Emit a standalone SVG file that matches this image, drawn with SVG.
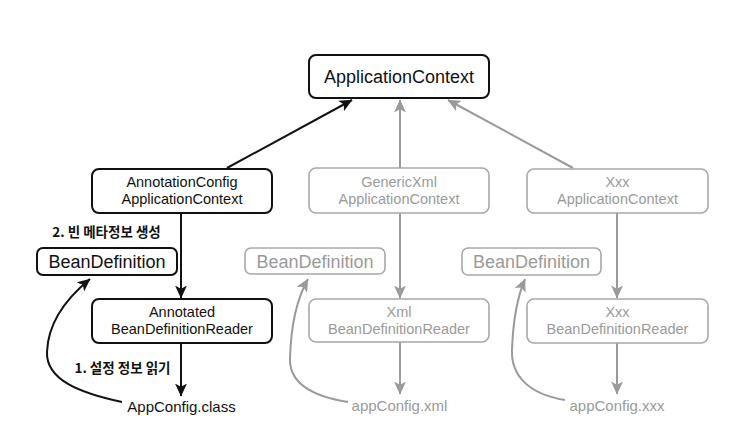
<svg xmlns="http://www.w3.org/2000/svg" width="747" height="436" viewBox="0 0 747 436">
<defs>
<marker id="ab" viewBox="0 0 12 11" refX="11.5" refY="5.5" markerWidth="13" markerHeight="12" orient="auto" markerUnits="userSpaceOnUse">
<path d="M0,0 L12,5.5 L0,11 L3,5.5 Z" fill="#111"/>
</marker>
<marker id="ag" viewBox="0 0 12 11" refX="11.5" refY="5.5" markerWidth="13" markerHeight="12" orient="auto" markerUnits="userSpaceOnUse">
<path d="M0,0 L12,5.5 L0,11 L3,5.5 Z" fill="#9a9a9a"/>
</marker>
<style>
text{font-family:"Liberation Sans",Arial,"Noto Sans CJK KR",sans-serif;text-anchor:middle}
.bb{fill:#fff;stroke:#111;stroke-width:2}
.gb{fill:#fff;stroke:#a8a8a8;stroke-width:1.6}
.bt{fill:#111;font-size:14.5px}
.gt{fill:#9a9a9a;font-size:14.5px}
.big{font-size:18px}
.lb{fill:none;stroke:#111;stroke-width:2;marker-end:url(#ab)}
.lg{fill:none;stroke:#9a9a9a;stroke-width:2;marker-end:url(#ag)}
.kl{fill:#111;font-size:13.5px;font-weight:bold;font-family:"Noto Sans CJK KR","Liberation Sans",sans-serif}
</style>
</defs>
<rect width="747" height="436" fill="#fff"/>
<g id="connectors">
<line class="lb" x1="227" y1="168" x2="352" y2="100"/>
<line class="lg" x1="400" y1="168" x2="400" y2="100"/>
<line class="lg" x1="573" y1="168" x2="448" y2="100"/>
<line class="lb" x1="181" y1="213" x2="181" y2="298"/>
<line class="lb" x1="181" y1="343" x2="181" y2="396"/>
<path class="lb" d="M122,402 C80,393 46,380 47,352 C48,322 68,297 90,279"/>
<line class="lg" x1="400" y1="213" x2="400" y2="298"/>
<line class="lg" x1="400" y1="342" x2="400" y2="394"/>
<path class="lg" d="M348,402 C310,396 289,382 290,358 C291,325 296,300 308,279"/>
<line class="lg" x1="617" y1="213" x2="617" y2="298"/>
<line class="lg" x1="617" y1="343" x2="617" y2="394"/>
<path class="lg" d="M565,400 C528,394 511,375 512,350 C513,322 516,300 525,279"/>
</g>
<g id="applicationContext">
<rect class="bb" x="309" y="55" width="180" height="43" rx="7"/>
<text class="bt big" x="399" y="83">ApplicationContext</text>
</g>
<g id="annotationConfigApplicationContext">
<rect class="bb" x="92" y="169" width="180" height="44" rx="7"/>
<text class="bt" x="182" y="187">AnnotationConfig</text>
<text class="bt" x="182" y="204">ApplicationContext</text>
</g>
<g id="genericXmlApplicationContext">
<rect class="gb" x="309" y="168" width="180" height="45" rx="7"/>
<text class="gt" x="399" y="187">GenericXml</text>
<text class="gt" x="399" y="204">ApplicationContext</text>
</g>
<g id="xxxApplicationContext">
<rect class="gb" x="527" y="169" width="181" height="44" rx="7"/>
<text class="gt" x="617.5" y="187">Xxx</text>
<text class="gt" x="617.5" y="204">ApplicationContext</text>
</g>
<g id="beanDefinition1">
<rect class="bb" x="37" y="248" width="140" height="27" rx="6"/>
<text class="bt big" x="107" y="268">BeanDefinition</text>
</g>
<g id="beanDefinition2">
<rect class="gb" x="245" y="248" width="140" height="26" rx="6"/>
<text class="gt big" x="315" y="268">BeanDefinition</text>
</g>
<g id="beanDefinition3">
<rect class="gb" x="462" y="248" width="139" height="27" rx="6"/>
<text class="gt big" x="531.5" y="268">BeanDefinition</text>
</g>
<g id="annotatedBeanDefinitionReader">
<rect class="bb" x="92" y="299" width="180" height="44" rx="7"/>
<text class="bt" x="182" y="317">Annotated</text>
<text class="bt" x="182" y="334">BeanDefinitionReader</text>
</g>
<g id="xmlBeanDefinitionReader">
<rect class="gb" x="309" y="299" width="180" height="43" rx="7"/>
<text class="gt" x="399" y="317">Xml</text>
<text class="gt" x="399" y="334">BeanDefinitionReader</text>
</g>
<g id="xxxBeanDefinitionReader">
<rect class="gb" x="527" y="299" width="181" height="44" rx="7"/>
<text class="gt" x="617.5" y="317">Xxx</text>
<text class="gt" x="617.5" y="334">BeanDefinitionReader</text>
</g>
<g id="appConfigClass">
<text class="bt" style="font-size:15px" x="181.5" y="412">AppConfig.class</text>
</g>
<g id="appConfigXml">
<text class="gt" style="font-size:15px" x="399.5" y="411">appConfig.xml</text>
</g>
<g id="appConfigXxx">
<text class="gt" style="font-size:15px" x="617" y="411">appConfig.xxx</text>
</g>
<g id="labels">
<text class="kl" x="106.5" y="237">2. 빈 메타정보 생성</text>
<text class="kl" x="122.5" y="373">1. 설정 정보 읽기</text>
</g>
</svg>
